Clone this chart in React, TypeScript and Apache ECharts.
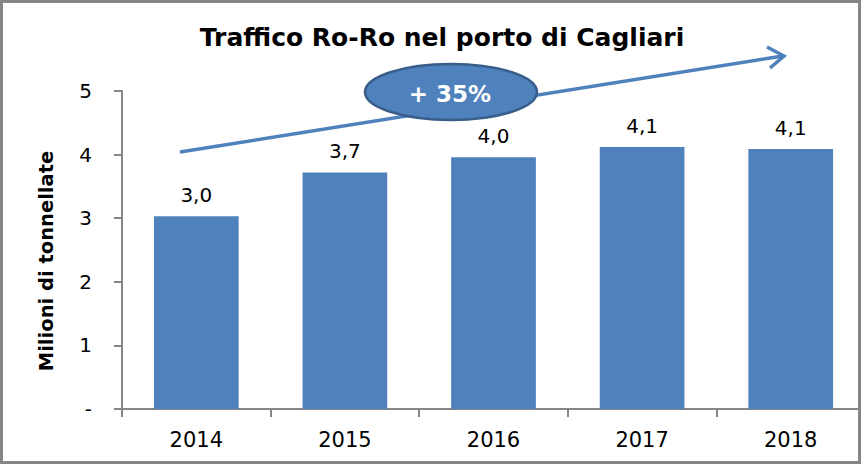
import React, { useEffect, useRef } from "react";
import * as echarts from "echarts";

const title = "Traffico Ro-Ro nel porto di Cagliari";
const yAxisName = "Milioni di tonnellate";
const categories = ["2014", "2015", "2016", "2017", "2018"];
const values = [3.03, 3.72, 3.96, 4.12, 4.09];
const labels = ["3,0", "3,7", "4,0", "4,1", "4,1"];
const growthLabel = "+ 35%";

const FONT = "DejaVu Sans";
const BLUE = "#4F81BD";

export default function App() {
  const ref = useRef<HTMLDivElement>(null);
  useEffect(() => {
    document.body.style.margin = "0";
    const chart = echarts.init(ref.current!, null, { renderer: "svg" });
    chart.setOption({
      animation: false,
      backgroundColor: "#ffffff",
      textStyle: { fontFamily: FONT },
      title: {
        text: title,
        left: 437,
        top: 20,
        textAlign: "center",
        textStyle: { fontFamily: FONT, fontWeight: "bold", fontSize: 25, color: "#000" },
      },
      grid: { left: 122, right: 0, top: 91, bottom: 55, containLabel: false },
      xAxis: {
        type: "category",
        data: categories,
        axisLine: { lineStyle: { color: "#868686", width: 2 } },
        axisTick: { show: true, length: 8, lineStyle: { color: "#868686", width: 2 } },
        axisLabel: { color: "#000", fontSize: 21, margin: 20, fontFamily: FONT },
      },
      yAxis: {
        type: "value",
        min: 0,
        max: 5,
        interval: 1,
        splitLine: { show: false },
        axisLine: { show: true, lineStyle: { color: "#868686", width: 2 } },
        axisTick: { show: true, length: 8, lineStyle: { color: "#868686", width: 2 } },
        axisLabel: {
          color: "#000",
          fontSize: 20,
          margin: 30,
          fontFamily: FONT,
          formatter: (v: number) => (v === 0 ? "-" : String(v)),
        },
      },
      series: [
        {
          type: "bar",
          data: values,
          barWidth: "57%",
          itemStyle: { color: BLUE },
          label: {
            show: true,
            position: "top",
            distance: 11,
            fontSize: 20,
            color: "#000",
            fontFamily: FONT,
            formatter: (p: any) => labels[p.dataIndex],
          },
        },
      ],
      graphic: [
        {
          type: "text",
          x: 46,
          y: 261,
          rotation: Math.PI / 2,
          style: {
            text: yAxisName,
            fontFamily: FONT,
            fontWeight: "bold",
            fontSize: 19.5,
            fill: "#000",
            align: "center",
            verticalAlign: "middle",
          },
        },
        {
          type: "line",
          shape: { x1: 180, y1: 152, x2: 783, y2: 56 },
          style: { stroke: BLUE, lineWidth: 3.5 },
          z: 10,
        },
        {
          type: "polyline",
          shape: { points: [[767, 47], [784, 56], [770, 68]] },
          style: { stroke: BLUE, lineWidth: 3.5, fill: "none", lineJoin: "miter" },
          z: 10,
        },
        {
          type: "ellipse",
          shape: { cx: 451, cy: 92, rx: 86, ry: 28 },
          style: { fill: BLUE, stroke: "#385D8A", lineWidth: 2.5 },
          z: 11,
        },
        {
          type: "text",
          x: 450,
          y: 94,
          style: {
            text: growthLabel,
            fontFamily: FONT,
            fontWeight: "bold",
            fontSize: 23,
            fill: "#ffffff",
            align: "center",
            verticalAlign: "middle",
          },
          z: 12,
        },
        {
          type: "rect",
          shape: { x: 1.5, y: 1.5, width: 858, height: 461 },
          style: { fill: "none", stroke: "#868686", lineWidth: 3 },
          z: 20,
        },
        {
          type: "rect",
          shape: { x: 861, y: 0, width: 10, height: 464 },
          style: { fill: "#ffffff" },
          z: 19,
        },
      ],
    });
    return () => chart.dispose();
  }, []);
  return <div ref={ref} style={{ width: 865, height: 464 }} />;
}
